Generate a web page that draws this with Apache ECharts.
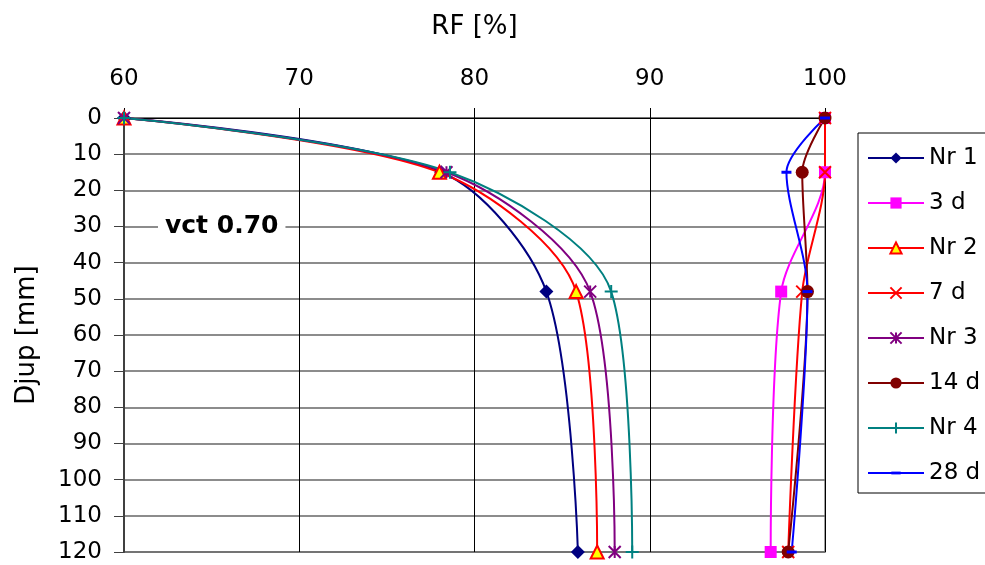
<!DOCTYPE html>
<html><head><meta charset="utf-8">
<script src="https://cdn.jsdelivr.net/npm/echarts@6/dist/echarts.min.js"></script>
<style>html,body{margin:0;padding:0;background:#fff}#c{width:985px;height:565px}</style>
</head><body><div id="c"></div>
<script>
const depths = [0, 15, 48, 120];
const nr1 = [60, 78.1, 84.1, 85.9];
const d3 = [100, 100, 97.5, 96.9];
const nr2 = [60, 78.0, 85.8, 87.0];
const d7 = [100, 100, 98.7, 97.9];
const nr3 = [60, 78.4, 86.6, 88.0];
const d14 = [100, 98.7, 99.0, 97.9];
const nr4 = [60, 78.6, 87.8, 89.0];
const d28 = [100, 97.8, 99.0, 98.1];
const xTicks = [60, 70, 80, 90, 100];
const yTicks = [0, 10, 20, 30, 40, 50, 60, 70, 80, 90, 100, 110, 120];

const FONT = 'DejaVu Sans';
const X_PATH = 'path://M0,0L10,10M10,0L0,10';
const STAR_PATH = 'path://M0,0L10,10M10,0L0,10M5,0L5,10';
const PLUS_PATH = 'path://M5,0L5,10M0,5L10,5';
const DASH_PATH = 'path://M0,0M12,12M1,4.5L11,4.5L11,7.5L1,7.5Z';

function pts(xs) { return xs.map((x, i) => [x, depths[i]]); }
function mk(name, xs, color, symbol, size, extra) {
  return Object.assign({
    name, type: 'line', data: pts(xs), smooth: 0.3,
    symbol, symbolSize: size,
    lineStyle: { color, width: 2 },
    itemStyle: { color, borderColor: color, borderWidth: 0 },
    emphasis: { disabled: true }, z: 3
  }, extra || {});
}
const series = [
  mk('Nr 1', nr1, '#000080', 'diamond', 14),
  mk('3 d', d3, '#FF00FF', 'rect', 12),
  mk('Nr 2', nr2, '#FF0000', 'triangle', 13, { itemStyle: { color: '#FFFF00', borderColor: '#FF0000', borderWidth: 2 } }),
  mk('7 d', d7, '#FF0000', X_PATH, 12, { itemStyle: { color: 'none', borderColor: '#FF0000', borderWidth: 2 } }),
  mk('Nr 3', nr3, '#800080', STAR_PATH, 12, { itemStyle: { color: 'none', borderColor: '#800080', borderWidth: 2 } }),
  mk('14 d', d14, '#800000', 'circle', 13),
  mk('Nr 4', nr4, '#008080', PLUS_PATH, 13, { itemStyle: { color: 'none', borderColor: '#008080', borderWidth: 2 } }),
  mk('28 d', d28, '#0000FF', DASH_PATH, 12)
];

const chart = echarts.init(document.getElementById('c'), null, { renderer: 'canvas' });
chart.setOption({
  animation: false,
  backgroundColor: '#fff',
  textStyle: { fontFamily: FONT },
  grid: { left: 124, right: 160, top: 118, bottom: 13, show: true, borderColor: '#a0a0a0', borderWidth: 2 },
  xAxis: {
    type: 'value', position: 'top', min: 60, max: 100, interval: 10,
    name: 'RF [%]', nameLocation: 'middle', nameGap: 78,
    nameTextStyle: { fontSize: 26, color: '#000', fontFamily: FONT },
    axisLine: { show: true, lineStyle: { color: '#000', width: 1 } },
    axisTick: { show: true, inside: false, length: 10, lineStyle: { color: '#000' } },
    axisLabel: { fontSize: 23, color: '#000', margin: 27, fontFamily: FONT,
      formatter: v => xTicks.includes(v) ? String(v) : '' },
    splitLine: { show: true, lineStyle: { color: '#000', width: 1 } }
  },
  yAxis: {
    type: 'value', inverse: true, min: 0, max: 120, interval: 10,
    name: 'Djup [mm]', nameLocation: 'middle', nameGap: 84, nameRotate: 90,
    nameTextStyle: { fontSize: 26, color: '#000', fontFamily: FONT },
    axisLine: { show: true, lineStyle: { color: '#404040', width: 2 } },
    axisTick: { show: true, length: 10, lineStyle: { color: '#404040' } },
    axisLabel: { fontSize: 23, color: '#000', margin: 22, fontFamily: FONT,
      formatter: v => yTicks.includes(v) ? String(v) : '' },
    splitLine: { show: true, lineStyle: { color: '#666', width: 1.5 } }
  },
  legend: {
    orient: 'vertical', left: 858, top: 133,
    itemWidth: 56, itemHeight: 14, itemGap: 21,
    padding: [13, 30, 8, 9],
    borderColor: '#000', borderWidth: 1, backgroundColor: '#fff',
    textStyle: { fontSize: 23, color: '#000', lineHeight: 24, fontFamily: FONT },
    data: series.map(s => s.name)
  },
  graphic: [{
    type: 'text', left: 158, top: 212, z: 10,
    style: { text: 'vct 0.70', font: 'bold 25px DejaVu Sans', fill: '#000',
      backgroundColor: '#fff', padding: [2, 7, 2, 7] }
  }],
  series
});
</script></body></html>
